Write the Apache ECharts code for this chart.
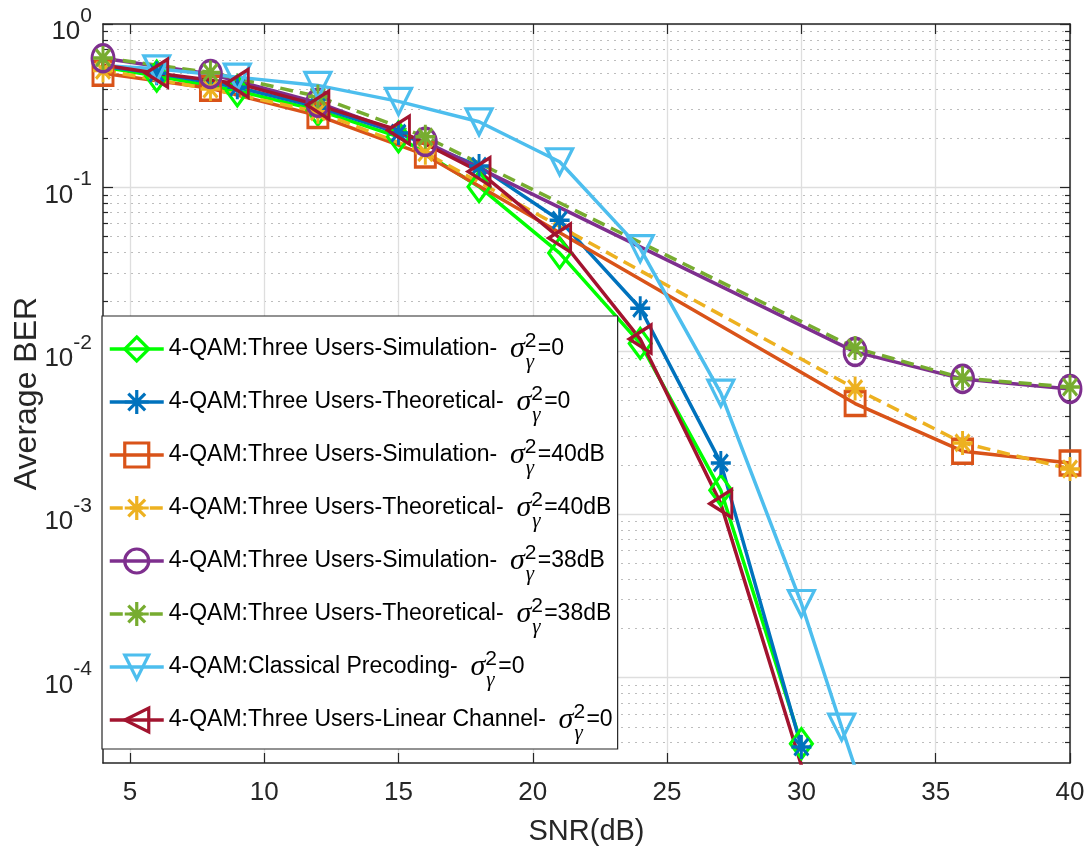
<!DOCTYPE html>
<html>
<head>
<meta charset="utf-8">
<title>Average BER vs SNR</title>
<script src="https://cdn.jsdelivr.net/npm/echarts@6/dist/echarts.min.js"></script>
<style>
  html, body { margin: 0; padding: 0; background: #fff; }
  #chart { width: 1089px; height: 854px; }
</style>
</head>
<body>
<div id="chart"></div>
<script>
// SNR points (dB)
const snrStep3 = [3, 6, 9, 12, 15, 18, 21, 24, 27, 30]
const snrStep4 = [4, 8, 12, 16, 32, 36, 40]
const snrClassical = [3, 6, 9, 12, 15, 18, 21, 24, 27, 30, 31.5, 33]

// BER values
const simNoErr = [0.58, 0.48, 0.39, 0.297, 0.204, 0.101, 0.0396, 0.0111, 0.0014, 3.94e-5]
const theoNoErr = [0.58, 0.50, 0.41, 0.31, 0.215, 0.135, 0.063, 0.0182, 0.00206, 3.76e-5]
const sim40 = [0.50, 0.404, 0.275, 0.158, 0.00475, 0.00243, 0.00206]
const theo40 = [0.52, 0.40, 0.29, 0.163, 0.00587, 0.00273, 0.00189]
const sim38 = [0.617, 0.494, 0.33, 0.19, 0.00985, 0.00673, 0.00583]
const theo38 = [0.62, 0.505, 0.36, 0.204, 0.0104, 0.0068, 0.0060]
const classical = [0.57, 0.532, 0.473, 0.421, 0.336, 0.252, 0.1435, 0.0422, 0.0055, 2.84e-4, 4.97e-5, 9e-6]
const linearCh = [0.595, 0.50, 0.433, 0.319, 0.224, 0.125, 0.049, 0.0118, 0.00116, 2.9e-5]

// legend text
const legendLabels = [
  '4-QAM:Three Users-Simulation-',
  '4-QAM:Three Users-Theoretical-',
  '4-QAM:Three Users-Simulation-',
  '4-QAM:Three Users-Theoretical-',
  '4-QAM:Three Users-Simulation-',
  '4-QAM:Three Users-Theoretical-',
  '4-QAM:Classical Precoding-',
  '4-QAM:Three Users-Linear Channel-'
]
const noiseLabels = ['0', '0', '40dB', '40dB', '38dB', '38dB', '0', '0']
const names = legendLabels.map((t, i) => t + ' σγ²=' + noiseLabels[i])

// axis ticks
const xTicks = [5, 10, 15, 20, 25, 30, 35, 40]
const yMajorTicks = [1e-4, 1e-3, 1e-2, 1e-1, 1]
const yMinorTicks = []
for (let e = -5; e < 0; e++) {
  for (let m = 2; m <= 9; m++) {
    const v = +(m * Math.pow(10, e)).toPrecision(3)
    if (v > 3e-5) yMinorTicks.push(v)
  }
}

const sans = '"Liberation Sans", Arial, Helvetica, sans-serif'
const serif = '"Liberation Serif", "Times New Roman", serif'
const axisColor = '#262626'

const star = 'path://M10 0L10 20M0 10L20 10M3 3L17 17M3 17L17 3'
const triDown = 'path://M0 0L20 0L10 20Z'
const triLeft = 'path://M0 10L20 0L20 20Z'

function makeSeries (i, xs, ys, color, symbol, size, dashed) {
  return {
    name: names[i],
    type: 'line',
    data: xs.map((x, j) => [x, ys[j]]),
    symbol: symbol,
    symbolSize: size,
    clip: true,
    lineStyle: { color: color, width: 3.5, type: dashed ? [13, 7] : 'solid' },
    itemStyle: { color: 'rgba(0,0,0,0)', borderColor: color, borderWidth: 3.2 },
    emphasis: { disabled: true }
  }
}

function logLabel (v) {
  const e = Math.round(Math.log10(v))
  return '{b|10}{e|' + e + '}'
}

function yAxisBase (position) {
  return {
    type: 'log',
    logBase: 10,
    min: 3e-5,
    max: 1,
    position: position,
    axisLine: { show: false },
    axisTick: { show: false },
    axisLabel: { show: false },
    splitLine: { show: false },
    minorTick: { show: false },
    minorSplitLine: { show: false }
  }
}

const yLeft = Object.assign(yAxisBase('left'), {
  name: 'Average BER',
  nameLocation: 'middle',
  nameGap: 60,
  nameMoveOverlap: false,
  nameTextStyle: { fontFamily: sans, fontSize: 32, color: axisColor },
  axisLine: { show: true, lineStyle: { color: axisColor, width: 1.5 } },
  axisTick: { show: true, inside: true, length: 10, customValues: yMajorTicks, lineStyle: { color: axisColor, width: 1.2 } },
  axisLabel: {
    show: true,
    customValues: yMajorTicks,
    margin: 11,
    formatter: logLabel,
    color: axisColor,
    rich: {
      b: { fontFamily: sans, fontSize: 26, lineHeight: 40, padding: [16, 0, 0, 0], color: axisColor },
      e: { fontFamily: sans, fontSize: 21, lineHeight: 40, padding: [0, 0, 16, 0], color: axisColor }
    }
  },
  splitLine: { show: true, lineStyle: { color: '#dedede', width: 1.3 } }
})
const yLeftMinor = Object.assign(yAxisBase('left'), {
  axisTick: { show: true, inside: true, length: 5, customValues: yMinorTicks, lineStyle: { color: axisColor, width: 1.2 } },
  splitLine: { show: true, lineStyle: { color: '#bdbdbd', width: 1, type: [2, 5] } }
})
const yRight = Object.assign(yAxisBase('right'), {
  axisLine: { show: true, lineStyle: { color: axisColor, width: 1.5 } },
  axisTick: { show: true, inside: true, length: 10, customValues: yMajorTicks, lineStyle: { color: axisColor, width: 1.2 } }
})
const yRightMinor = Object.assign(yAxisBase('right'), {
  axisTick: { show: true, inside: true, length: 5, customValues: yMinorTicks, lineStyle: { color: axisColor, width: 1.2 } }
})

const chart = echarts.init(document.getElementById('chart'))
chart.setOption({
  animation: false,
  backgroundColor: '#fff',
  grid: { left: 103, right: 19, top: 24, bottom: 91, containLabel: false, outerBoundsMode: 'none' },
  legend: {
    orient: 'vertical',
    left: 102,
    top: 316,
    padding: [9, 5, 5, 6],
    itemGap: 5,
    itemWidth: 54,
    itemHeight: 30,
    backgroundColor: '#fff',
    borderColor: axisColor,
    borderWidth: 1.2,
    borderRadius: 0,
    selectedMode: false,
    itemStyle: { borderWidth: 3.2 },
    lineStyle: { width: 3.5 },
    data: names,
    formatter: function (name) {
      const i = names.indexOf(name)
      return '{t|' + legendLabels[i] + '  }{s|σ}{p|2}{g|γ}{t|=' + noiseLabels[i] + '}'
    },
    textStyle: {
      color: '#000',
      rich: {
        t: { fontFamily: sans, fontSize: 23, lineHeight: 44, color: '#000' },
        s: { fontFamily: serif, fontStyle: 'italic', fontSize: 30, lineHeight: 44, color: '#000' },
        p: { fontFamily: sans, fontSize: 21, lineHeight: 44, width: 1, padding: [0, 0, 15, 0], color: '#000' },
        g: { fontFamily: serif, fontStyle: 'italic', fontSize: 21, lineHeight: 44, width: 12, padding: [27, 0, 0, 0], color: '#000' }
      }
    }
  },
  xAxis: [
    {
      type: 'value',
      min: 4,
      max: 40,
      position: 'bottom',
      name: 'SNR(dB)',
      nameLocation: 'middle',
      nameGap: 54,
      nameTextStyle: { fontFamily: sans, fontSize: 29, color: axisColor },
      axisLine: { onZero: false, lineStyle: { color: axisColor, width: 1.5 } },
      axisTick: { inside: true, length: 10, customValues: xTicks, lineStyle: { color: axisColor, width: 1.2 } },
      axisLabel: { customValues: xTicks, margin: 17, fontFamily: sans, fontSize: 26, color: axisColor },
      splitLine: { show: true, lineStyle: { color: '#dedede', width: 1.3 } }
    },
    {
      type: 'value',
      min: 4,
      max: 40,
      position: 'top',
      axisLine: { onZero: false, lineStyle: { color: axisColor, width: 1.5 } },
      axisTick: { inside: true, length: 10, customValues: xTicks, lineStyle: { color: axisColor, width: 1.2 } },
      axisLabel: { show: false },
      splitLine: { show: false }
    }
  ],
  yAxis: [yLeft, yLeftMinor, yRight, yRightMinor],
  series: [
    makeSeries(0, snrStep3, simNoErr, '#00ff00', 'diamond', [22, 30], false),
    makeSeries(1, snrStep3, theoNoErr, '#0072bd', star, [20, 24], false),
    makeSeries(2, snrStep4, sim40, '#d95319', 'rect', [20, 24], false),
    makeSeries(3, snrStep4, theo40, '#edb120', star, [20, 24], true),
    makeSeries(4, snrStep4, sim38, '#7e2f8e', 'circle', [22, 27], false),
    makeSeries(5, snrStep4, theo38, '#77ac30', star, [20, 24], true),
    makeSeries(6, snrClassical, classical, '#4dbeee', triDown, [26, 26], false),
    makeSeries(7, snrStep3, linearCh, '#a2142f', triLeft, [22, 28], false)
  ]
})
</script>
</body>
</html>
